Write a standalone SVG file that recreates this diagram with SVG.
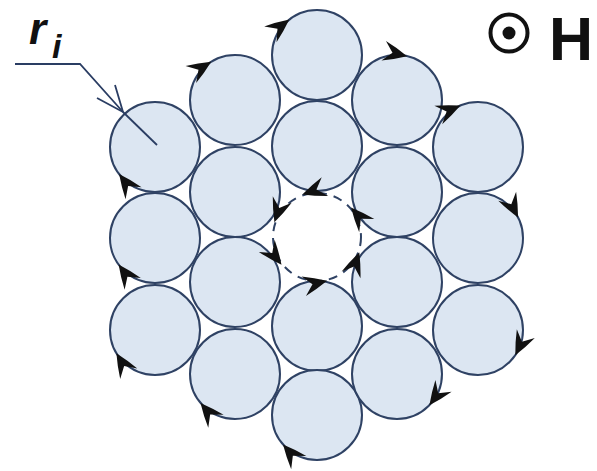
<svg xmlns="http://www.w3.org/2000/svg" xmlns:xlink="http://www.w3.org/1999/xlink" width="597" height="471" viewBox="0 0 597 471">
  <defs>
    <style>
      .wire { fill: #dce6f2; stroke: #2f4264; stroke-width: 2; }
      .hole { fill: #ffffff; stroke: #2f4264; stroke-width: 2; stroke-dasharray: 9 7; }
      .lbl { font-family: "Liberation Sans", Arial, sans-serif; font-weight: bold; fill: #111; }
      .lead { fill: none; stroke: #2a3d63; stroke-width: 1.8; }
      .ah { fill: #111; }
    </style>
    <path id="head" class="ah" d="M0,0 Q-12,-6 -24,-10 L-15,0 L-24,10 Q-12,6 0,0 Z"/>
  </defs>
  <rect width="597" height="471" fill="#ffffff"/>

  <g id="wires">
    <g id="w1"><circle class="wire" cx="155" cy="147" r="45"/></g>
    <g id="w2"><circle class="wire" cx="155" cy="238" r="45"/></g>
    <g id="w3"><circle class="wire" cx="155" cy="330" r="45"/></g>
    <g id="w4"><circle class="wire" cx="235" cy="100" r="45"/></g>
    <g id="w5"><circle class="wire" cx="235" cy="192" r="45"/></g>
    <g id="w6"><circle class="wire" cx="235" cy="282" r="45"/></g>
    <g id="w7"><circle class="wire" cx="235" cy="374" r="45"/></g>
    <g id="w8"><circle class="wire" cx="317" cy="55" r="45"/></g>
    <g id="w9"><circle class="wire" cx="317" cy="146" r="45"/></g>
    <g id="w10"><circle class="wire" cx="317" cy="326" r="45"/></g>
    <g id="w11"><circle class="wire" cx="317" cy="415" r="45"/></g>
    <g id="w12"><circle class="wire" cx="397" cy="100" r="45"/></g>
    <g id="w13"><circle class="wire" cx="397" cy="192" r="45"/></g>
    <g id="w14"><circle class="wire" cx="397" cy="282" r="45"/></g>
    <g id="w15"><circle class="wire" cx="397" cy="374" r="45"/></g>
    <g id="w16"><circle class="wire" cx="478" cy="147" r="45"/></g>
    <g id="w17"><circle class="wire" cx="478" cy="238" r="45"/></g>
    <g id="w18"><circle class="wire" cx="478" cy="330" r="45"/></g>
    <g id="hole"><circle class="hole" cx="317" cy="237" r="44"/></g>
  </g>

  <g id="connectors">
    <g id="outer-arrows">
      <use xlink:href="#head" transform="translate(211.2,61.8) rotate(328)"/>
      <use xlink:href="#head" transform="translate(289.3,19.5) rotate(322)"/>
      <use xlink:href="#head" transform="translate(407.1,56.2) rotate(13)"/>
      <use xlink:href="#head" transform="translate(460.4,105.6) rotate(337)"/>
      <use xlink:href="#head" transform="translate(518.1,217.6) rotate(63)"/>
      <use xlink:href="#head" transform="translate(515.3,355.2) rotate(116)"/>
      <use xlink:href="#head" transform="translate(429.4,405.3) rotate(126)"/>
      <use xlink:href="#head" transform="translate(283.0,444.5) rotate(229)"/>
      <use xlink:href="#head" transform="translate(200.5,402.9) rotate(230)"/>
      <use xlink:href="#head" transform="translate(116.4,353.2) rotate(239)"/>
      <use xlink:href="#head" transform="translate(118.6,264.5) rotate(234)"/>
      <use xlink:href="#head" transform="translate(119.1,174.1) rotate(233)"/>
    </g>
    <g id="hole-arrows">
      <use xlink:href="#head" transform="translate(302.3,194.4) rotate(161)"/>
      <use xlink:href="#head" transform="translate(274.4,222.3) rotate(109)"/>
      <use xlink:href="#head" transform="translate(281.5,264.7) rotate(52)"/>
      <use xlink:href="#head" transform="translate(327.1,280.8) rotate(-13)"/>
      <use xlink:href="#head" transform="translate(359.3,252.4) rotate(-70)"/>
      <use xlink:href="#head" transform="translate(351.0,207.5) rotate(-131)"/>
    </g>
    <g id="radius-leader">
      <polyline class="lead" points="15,64 80,64 123,112"/>
      <polyline class="lead" points="115,85 123,112 97,98"/>
      <line class="lead" x1="123" y1="112" x2="157" y2="145"/>
    </g>
  </g>

  <g id="label-ri">
    <text class="lbl" x="29" y="44" font-size="44" font-style="italic">r</text>
    <text class="lbl" x="52" y="58" font-size="34" font-style="italic">i</text>
  </g>

  <g id="label-H">
    <circle cx="509" cy="33" r="18.5" fill="none" stroke="#111" stroke-width="4"/>
    <circle cx="509" cy="33" r="6.5" fill="#111"/>
    <text class="lbl" x="549" y="60" font-size="61">H</text>
  </g>
</svg>
